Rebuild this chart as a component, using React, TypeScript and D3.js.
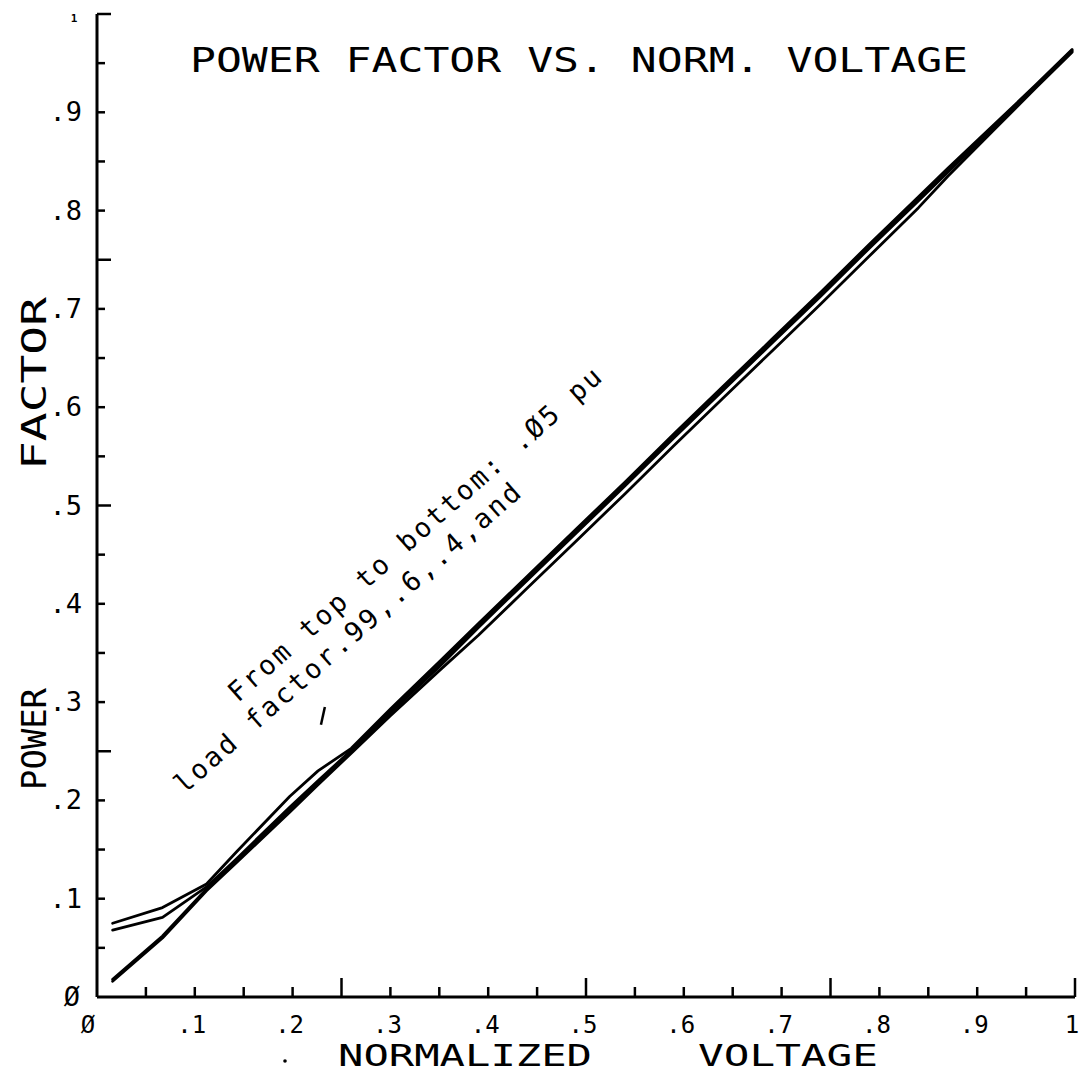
import React from 'react';
import * as d3 from 'd3';

// Normalized voltage (x) sample points
const voltage = [0.016, 0.067, 0.112, 0.143, 0.197, 0.226, 0.26, 0.30, 0.35, 0.39, 0.44, 0.49, 0.54, 0.59, 0.64, 0.69, 0.74, 0.79, 0.84, 0.87, 0.92, 0.96, 0.997];

// Power factor for each load factor (top to bottom: .99, .6, .4, .05 pu)
const pfLoad099 = [0.075, 0.091, 0.115, 0.148, 0.204, 0.230, 0.253, 0.293, 0.341, 0.380, 0.428, 0.476, 0.524, 0.573, 0.621, 0.669, 0.717, 0.766, 0.814, 0.843, 0.890, 0.928, 0.964];
const pfLoad06 = [0.068, 0.081, 0.112, 0.141, 0.193, 0.220, 0.251, 0.291, 0.338, 0.378, 0.426, 0.474, 0.522, 0.571, 0.619, 0.667, 0.715, 0.764, 0.812, 0.841, 0.889, 0.927, 0.963];
const pfLoad04 = [0.018, 0.062, 0.110, 0.139, 0.190, 0.218, 0.250, 0.289, 0.336, 0.376, 0.424, 0.472, 0.520, 0.569, 0.617, 0.665, 0.713, 0.762, 0.810, 0.839, 0.887, 0.926, 0.962];
const pfLoad005 = [0.016, 0.060, 0.108, 0.137, 0.188, 0.216, 0.248, 0.286, 0.332, 0.368, 0.416, 0.464, 0.512, 0.561, 0.609, 0.657, 0.705, 0.754, 0.803, 0.835, 0.885, 0.925, 0.961];

const xTickLabels = ['Ø', '.1', '.2', '.3', '.4', '.5', '.6', '.7', '.8', '.9', '1'];
const yTickLabels = ['Ø', '.1', '.2', '.3', '.4', '.5', '.6', '.7', '.8', '.9'];

const FONT = '"DejaVu Sans Mono", "Liberation Mono", monospace';

export default function App() {
  const W = 1081;
  const H = 1074;
  const x = d3.scaleLinear().domain([0, 1]).range([97, 1075]);
  const y = d3.scaleLinear().domain([0, 1]).range([997, 14]);

  const line = d3
    .line<number>()
    .x((_, i) => x(voltage[i]))
    .y((d) => y(d));

  const series = [pfLoad099, pfLoad06, pfLoad04, pfLoad005];
  const ticks = d3.range(0, 21).map((i) => i * 0.05);
  const isMajor = (i: number) => i % 5 === 0;

  return (
    <svg
      width={W}
      height={H}
      viewBox={`0 0 ${W} ${H}`}
      style={{ position: 'absolute', left: 0, top: 0, background: '#fff' }}
    >
      <rect x={0} y={0} width={W} height={H} fill="#fff" />
      {/* axes */}
      <line x1={x(0)} y1={y(0)} x2={x(1)} y2={y(0)} stroke="#000" strokeWidth={3} />
      <line x1={x(0)} y1={y(0)} x2={x(0)} y2={y(1)} stroke="#000" strokeWidth={3} />
      {ticks.map((t, i) =>
        i === 0 ? null : (
          <line
            key={'xt' + i}
            x1={x(t)}
            x2={x(t)}
            y1={y(0)}
            y2={y(0) - (isMajor(i) ? 19 : 10)}
            stroke="#000"
            strokeWidth={2.5}
          />
        )
      )}
      {ticks.map((t, i) =>
        i === 0 ? null : (
          <line
            key={'yt' + i}
            x1={x(0)}
            x2={x(0) + (isMajor(i) ? 14 : 8)}
            y1={y(t)}
            y2={y(t)}
            stroke="#000"
            strokeWidth={2.5}
          />
        )
      )}
      {/* x tick labels */}
      {xTickLabels.map((lab, i) => (
        <text
          key={'xl' + i}
          x={x(i / 10) - (i === 0 ? 9 : 3)}
          y={1033}
          fontFamily={FONT}
          fontSize={24}
          textAnchor="middle"
          fill="#000"
        >
          {lab}
        </text>
      ))}
      {/* y tick labels */}
      {yTickLabels.map((lab, i) => (
        <text
          key={'yl' + i}
          x={i === 0 ? 80 : 82}
          y={y(i / 10) + 9}
          fontFamily={FONT}
          fontSize={27}
          textAnchor="end"
          fill="#000"
        >
          {lab}
        </text>
      ))}
      <text x={74} y={22} fontFamily={FONT} fontSize={11} textAnchor="middle" fontWeight="bold" fill="#000">
        1
      </text>

      {/* title */}
      <text x={190} y={72} fontFamily={FONT} fontSize={34} textLength={778} lengthAdjust="spacingAndGlyphs" fill="#000">
        POWER FACTOR VS. NORM. VOLTAGE
      </text>

      {/* x axis title */}
      <text x={338} y={1066} fontFamily={FONT} fontSize={31} textLength={254} lengthAdjust="spacingAndGlyphs" fill="#000">
        NORMALIZED
      </text>
      <text x={698} y={1066} fontFamily={FONT} fontSize={31} textLength={180} lengthAdjust="spacingAndGlyphs" fill="#000">
        VOLTAGE
      </text>
      <circle cx={285} cy={1061} r={1.8} fill="#000" />

      {/* y axis title */}
      <text
        transform="translate(46,790) rotate(-90)"
        fontFamily={FONT}
        fontSize={34}
        textLength={102}
        lengthAdjust="spacingAndGlyphs"
        fill="#000"
      >
        POWER
      </text>
      <text
        transform="translate(46,470) rotate(-90)"
        fontFamily={FONT}
        fontSize={34}
        textLength={173}
        lengthAdjust="spacingAndGlyphs"
        fill="#000"
      >
        FACTOR
      </text>

      {/* curves */}
      {series.map((s, k) => (
        <path
          key={'s' + k}
          d={line(s) || ''}
          fill="none"
          stroke="#000"
          strokeWidth={2.8}
          strokeLinejoin="round"
          strokeLinecap="round"
        />
      ))}

      {/* stray pen mark */}
      <line
        x1={x(0.233)}
        y1={y(0.295)}
        x2={x(0.229)}
        y2={y(0.277)}
        stroke="#000"
        strokeWidth={2.5}
      />

      {/* annotation */}
      <g transform="translate(238,703) rotate(-41.5)">
        <text x={0} y={0} fontFamily={FONT} fontSize={27} textLength={488} lengthAdjust="spacing" fill="#000">
          From top to bottom:  .Ø5 pu
        </text>
        <text x={-101} y={33} fontFamily={FONT} fontSize={27} textLength={452} lengthAdjust="spacing" fill="#000">
          load factor.99,.6,.4,and
        </text>
      </g>
    </svg>
  );
}
